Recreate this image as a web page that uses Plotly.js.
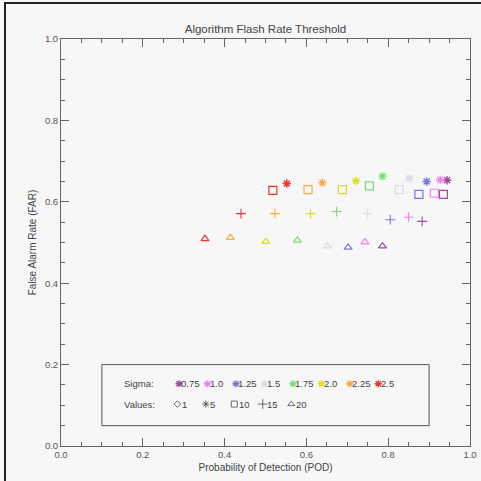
<!DOCTYPE html>
<html>
<head>
<meta charset="utf-8">
<script src="https://cdn.plot.ly/plotly-3.0.1.min.js"></script>
<style>
html,body{margin:0;padding:0;background:#f7f7f7;}
#plot{position:absolute;left:0;top:0;width:481px;height:481px;}
#frame{position:absolute;left:4px;top:2px;width:477px;height:479px;border-left:2px solid #222;border-top:2px solid #222;pointer-events:none;}
</style>
</head>
<body>
<div id="plot"></div>
<div id="frame"></div>
<script>
// Sigma categories (order: 0.75 ... 2.5)
var sigmaLabels = ["0.75", "1.0", "1.25", "1.5", "1.75", "2.0", "2.25", "2.5"];
var sigmaColors = ["#9a4c9e", "#ee82ee", "#7777dd", "#dcdce6", "#77dd77", "#dddd22", "#ffaa44", "#ee3333"];

// Value categories
var valueLabels = ["1", "5", "10", "15", "20"];
var valueSymbols = ["diamond-open", "asterisk-open", "square-open", "cross-thin-open", "triangle-up-open"];

// Value = 5 (asterisk)
var pod5 = [0.944, 0.927, 0.894, 0.852, 0.786, 0.721, 0.639, 0.552];
var far5 = [0.653, 0.654, 0.650, 0.658, 0.663, 0.651, 0.647, 0.645];
// Value = 10 (square)
var pod10 = [0.935, 0.913, 0.875, 0.827, 0.754, 0.688, 0.604, 0.518];
var far10 = [0.618, 0.621, 0.618, 0.630, 0.639, 0.630, 0.630, 0.628];
// Value = 15 (plus)
var pod15 = [0.883, 0.850, 0.805, 0.750, 0.674, 0.610, 0.523, 0.440];
var far15 = [0.552, 0.562, 0.556, 0.571, 0.576, 0.571, 0.571, 0.571];
// Value = 20 (triangle)
var pod20 = [0.786, 0.743, 0.702, 0.652, 0.578, 0.501, 0.414, 0.352];
var far20 = [0.491, 0.501, 0.488, 0.491, 0.505, 0.502, 0.512, 0.509];

var textColor = "#444";
var fontFam = "Liberation Sans, Arial, sans-serif";

var traces = [];
function addSeries(xs, ys, sym, size, lw) {
  traces.push({
    type: "scatter", mode: "markers", x: xs, y: ys, showlegend: false, hoverinfo: "skip",
    marker: {symbol: sym, size: size, color: sigmaColors, line: {color: sigmaColors, width: lw}}
  });
}
addSeries(pod5, far5, "asterisk-open", 7, 1.4);
addSeries(pod10, far10, "square-open", 8, 1.2);
addSeries(pod15, far15, "cross-thin-open", 7, 1.1);
addSeries(pod20, far20, "triangle-up-open", 7, 1.2);

// Legend box inside the plot (layout positions)
var legX0 = 0.2885, legDx = 0.0696, legRow1 = 0.153, legRow2 = 0.103;
var sigX = sigmaLabels.map(function(_, i){ return legX0 + i * legDx; });
traces.push({
  type: "scatter", mode: "markers", x: sigX, y: sigX.map(function(){return legRow1;}),
  showlegend: false, hoverinfo: "skip",
  marker: {symbol: "asterisk-open", size: 6, color: sigmaColors, line: {color: sigmaColors, width: 1.3}}
});
var valX = valueLabels.map(function(_, i){ return legX0 - 0.004 + i * legDx; });
traces.push({
  type: "scatter", mode: "markers", x: valX, y: valX.map(function(){return legRow2;}),
  showlegend: false, hoverinfo: "skip",
  marker: {symbol: valueSymbols, size: [5, 6, 6, 7, 6], color: "#333", line: {color: "#333", width: 1}}
});

var annotations = [];
annotations.push({x: 0.149, y: legRow1, xref: "x", yref: "y", text: "Sigma:", showarrow: false, xanchor: "left", yanchor: "middle", font: {family: fontFam, size: 9.5, color: textColor}});
annotations.push({x: 0.149, y: legRow2, xref: "x", yref: "y", text: "Values:", showarrow: false, xanchor: "left", yanchor: "middle", font: {family: fontFam, size: 9.5, color: textColor}});
sigmaLabels.forEach(function(t, i){
  annotations.push({x: sigX[i] + 0.006, y: legRow1, xref: "x", yref: "y", text: t, showarrow: false, xanchor: "left", yanchor: "middle", xshift: -2, font: {family: fontFam, size: 9.5, color: textColor}});
});
valueLabels.forEach(function(t, i){
  annotations.push({x: valX[i] + 0.011, y: legRow2, xref: "x", yref: "y", text: t, showarrow: false, xanchor: "left", yanchor: "middle", xshift: -2, font: {family: fontFam, size: 9.5, color: textColor}});
});

var axisCommon = {
  range: [0, 1], dtick: 0.2, tickformat: ".1f", showgrid: false, zeroline: false,
  showline: true, linecolor: "#666", linewidth: 1, mirror: "ticks",
  ticks: "inside", ticklen: 8, tickcolor: "#666", tickwidth: 1,
  minor: {dtick: 0.05, ticks: "inside", ticklen: 4, tickcolor: "#666", tickwidth: 1, showgrid: false},
  tickfont: {family: fontFam, size: 9.5, color: "#555"}, fixedrange: true
};

var layout = {
  width: 481, height: 481,
  margin: {l: 61, r: 11, t: 39, b: 35},
  paper_bgcolor: "#f7f7f7", plot_bgcolor: "#f7f7f7",
  title: {text: "Algorithm Flash Rate Threshold", x: 0.552, xanchor: "center", y: 0.94, yanchor: "middle", yref: "container",
          font: {family: fontFam, size: 11.5, color: textColor}},
  xaxis: Object.assign({}, axisCommon, {title: {text: "Probability of Detection (POD)", standoff: 4, font: {family: fontFam, size: 10, color: textColor}}}),
  yaxis: Object.assign({}, axisCommon, {title: {text: "False Alarm Rate (FAR)", standoff: 6, font: {family: fontFam, size: 10, color: textColor}}}),
  shapes: [{type: "rect", xref: "x", yref: "y", x0: 0.1, x1: 0.9, y0: 0.05, y1: 0.2, line: {color: "#555", width: 1}, fillcolor: "rgba(0,0,0,0)"}],
  annotations: annotations
};

Plotly.newPlot("plot", traces, layout, {displayModeBar: false, staticPlot: true});
</script>
</body>
</html>
